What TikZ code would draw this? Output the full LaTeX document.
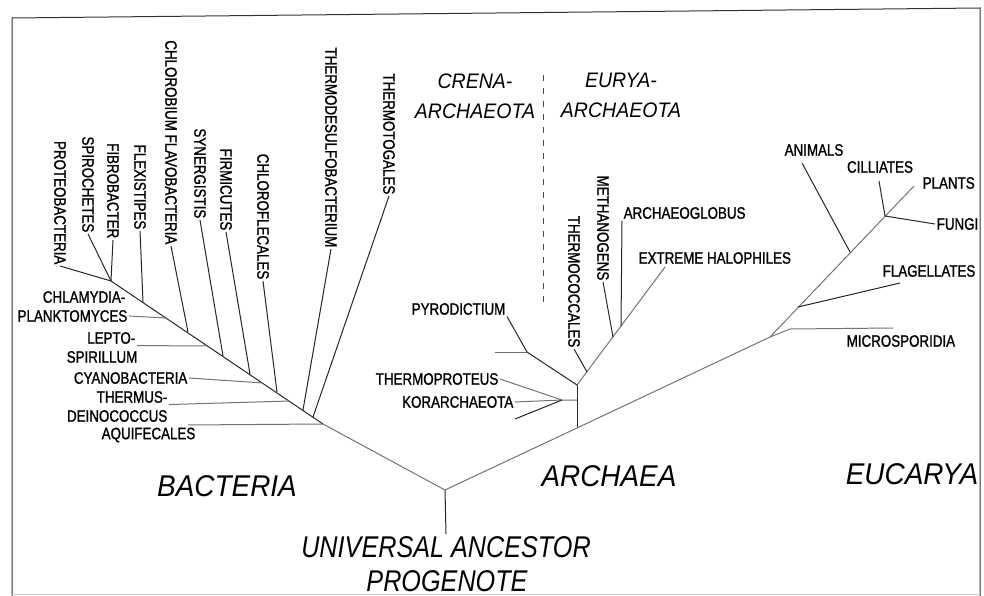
\documentclass[tikz,border=0pt]{standalone}
\usepackage{fontspec}
\setmainfont{Liberation Sans}
\newfontfamily\taxfont[FakeStretch=0.81, FakeBold=1.2]{Liberation Sans}
\newfontfamily\domainfont[FakeStretch=0.93]{Liberation Sans}
\newfontfamily\rootfont[FakeStretch=0.84]{Liberation Sans}

\begin{document}
\begin{tikzpicture}[x=1pt, y=-1pt,
    taxon/.style={font=\taxfont\fontsize{16.5}{18}\selectfont, inner sep=1.5pt},
    vtaxon/.style={taxon, rotate=-90, anchor=east},
    kingdom/.style={font=\domainfont\itshape\fontsize{30}{34}\selectfont, inner sep=0pt},
    phylum/.style={font=\domainfont\itshape\fontsize{21}{30}\selectfont, inner sep=0pt, align=center},
    ancestor/.style={font=\rootfont\itshape\fontsize{30}{34}\selectfont, inner sep=2pt},
    branch/.style={draw=black!85, line width=1pt},
    faint/.style={draw=black!55, line width=1pt}]
    \useasboundingbox (0,0) rectangle (984,596);
    % frame
    \draw[black!80, line width=1pt] (12,596) -- (12,18) -- (980,8) -- (980,596);
    \draw[black!20, line width=1pt] (12,594) -- (980,594);

    % bacteria
    \node[vtaxon] (proteo) at (60,266) {PROTEOBACTERIA};
    \node[vtaxon] (spiro) at (88,234) {SPIROCHETES};
    \node[vtaxon] (fibro) at (113,240) {FIBROBACTER};
    \node[vtaxon] (flexi) at (140,231) {FLEXISTIPES};
    \node[vtaxon] (chlorob) at (171,246) {CHLOROBIUM FLAVOBACTERIA};
    \node[vtaxon] (syner) at (200,220) {SYNERGISTIS};
    \node[vtaxon] (firmi) at (226,232) {FIRMICUTES};
    \node[vtaxon] (flecal) at (263,281) {CHLOROFLECALES};
    \node[vtaxon] (tdesulfo) at (331,249) {THERMODESULFOBACTERIUM};
    \node[vtaxon] (ttoga) at (389,196) {THERMOTOGALES};
    \node[taxon, anchor=east] (chlam) at (127,297) {CHLAMYDIA-};
    \node[taxon, anchor=east] (plank) at (129,316) {PLANKTOMYCES};
    \node[taxon, anchor=east] (lepto) at (137,338) {LEPTO-};
    \node[taxon, anchor=east] (spiril) at (139,357) {SPIRILLUM};
    \node[taxon, anchor=east] (cyano) at (189,378) {CYANOBACTERIA};
    \node[taxon, anchor=east] (thermus) at (169,397) {THERMUS-};
    \node[taxon, anchor=east] (deino) at (169,416) {DEINOCOCCUS};
    \node[taxon, anchor=east] (aquif) at (197,435) {AQUIFECALES};

    \coordinate (b0) at (111,281);
    \coordinate (bflex) at (143,302);
    \coordinate (bchlam) at (167,318);
    \coordinate (bchlorob) at (188,332);
    \coordinate (blepto) at (208,346);
    \coordinate (bsyner) at (223,356);
    \coordinate (bfirmi) at (250,374);
    \coordinate (bcyano) at (263,383);
    \coordinate (bflecal) at (277,392);
    \coordinate (bthermus) at (290,401);
    \coordinate (btdesulfo) at (303,410);
    \coordinate (bttoga) at (313,417);
    \coordinate (baquif) at (323,424);
    \coordinate (root) at (445,490);

    \draw[branch] (proteo.east) -- (b0) -- (baquif);
    \draw[faint] (baquif) -- (root);
    \draw[branch] (spiro.east) -- (b0);
    \draw[branch] (fibro.east) -- (b0);
    \draw[branch] (flexi.east) -- (bflex);
    \draw[branch] (chlorob.east) -- (bchlorob);
    \draw[branch] (syner.east) -- (bsyner);
    \draw[branch] (firmi.east) -- (bfirmi);
    \draw[branch] (flecal.east) -- (bflecal);
    \draw[branch] (tdesulfo.east) -- (btdesulfo);
    \draw[branch] (ttoga.east) -- (bttoga);
    \draw[faint] (plank.east) -- (bchlam);
    \draw[faint] (lepto.south east) -- (blepto);
    \draw[faint] (cyano.east) -- (bcyano);
    \draw[faint] (thermus.south east) -- (bthermus);
    \draw[faint] ([xshift=-9pt, yshift=1pt]aquif.north east) -- (baquif);

    % root
    \node[ancestor] (univ) at (446,547) {UNIVERSAL ANCESTOR};
    \node[ancestor] (progen) at (447,581) {PROGENOTE};
    \draw[branch] (root) -- (univ.north);

    % archaea
    \node[vtaxon] (thermoc) at (574,349) {THERMOCOCCALES};
    \node[vtaxon] (methan) at (603,282) {METHANOGENS};
    \node[taxon, anchor=west] (globus) at (622,213) {ARCHAEOGLOBUS};
    \node[taxon, anchor=west] (halo) at (637,258) {EXTREME HALOPHILES};
    \node[taxon, anchor=east] (pyro) at (507,309) {PYRODICTIUM};
    \node[taxon, anchor=east] (thermop) at (500,379) {THERMOPROTEUS};
    \node[taxon, anchor=east] (korar) at (515,402) {KORARCHAEOTA};

    \coordinate (a0) at (577,428);
    \coordinate (a1) at (577,385);
    \coordinate (athermoc) at (587,372);
    \coordinate (amethan) at (613,337);
    \coordinate (aglobus) at (621,326);
    \coordinate (ahalo) at (665,267);
    \coordinate (cpyro) at (527,352);
    \coordinate (cstub) at (495,352);
    \coordinate (ckor) at (562,400);
    \coordinate (cfree) at (515,419);
    \coordinate (astem) at (577,400);

    \draw[faint] (root) -- (a0);
    \draw[branch] (a0) -- (a1);
    \draw[faint] (a1) -- (ahalo);
    \draw[branch] (thermoc.east) -- (athermoc);
    \draw[branch] (methan.east) -- (amethan);
    \draw[branch] (globus.south west) -- (aglobus);
    \draw[branch] (pyro.south east) -- (cpyro) -- (a1);
    \draw[faint] (cstub) -- (cpyro);
    \draw[faint] (thermop.east) -- (ckor);
    \draw[faint] (korar.east) -- (ckor) -- (astem);
    \draw[branch] (cfree) -- (ckor);
    \draw[black!70, line width=1pt, dash pattern=on 6pt off 7pt] (543,75) -- (543,307);
    \node[phylum] (crena) at (475,96) {CRENA-\\ARCHAEOTA};
    \node[phylum] (eurya) at (621,95) {EURYA-\\ARCHAEOTA};

    % eucarya
    \node[taxon, anchor=west] (micro) at (845,341) {MICROSPORIDIA};
    \node[taxon, anchor=west] (flag) at (881,271) {FLAGELLATES};
    \node[taxon] (anim) at (814,150) {ANIMALS};
    \node[taxon] (cill) at (880,167) {CILLIATES};
    \node[taxon, anchor=west] (plants) at (921,183) {PLANTS};
    \node[taxon, anchor=west] (fungi) at (935,224) {FUNGI};

    \coordinate (e0) at (770,337);
    \coordinate (emicro) at (790,329);
    \coordinate (emicroend) at (893,328);
    \coordinate (eflag) at (798,307);
    \coordinate (eflagend) at (900,283);
    \coordinate (eanim) at (850,252);
    \coordinate (eanimend) at (802,163);
    \coordinate (efun) at (885,216);
    \coordinate (ecillend) at (879,181);
    \coordinate (eplant) at (914,186);

    \draw[faint] (a0) -- (e0) -- (eplant);
    \draw[faint] (e0) -- (emicro) -- (emicroend);
    \draw[branch] (eflag) -- (eflagend);
    \draw[branch] (eanimend) -- (eanim);
    \draw[branch] (ecillend) -- (efun) -- (fungi.west);

    \node[kingdom] (bact) at (227,486) {BACTERIA};
    \node[kingdom] (arch) at (609,476) {ARCHAEA};
    \node[kingdom] (euca) at (912,474) {EUCARYA};
\end{tikzpicture}
\end{document}
